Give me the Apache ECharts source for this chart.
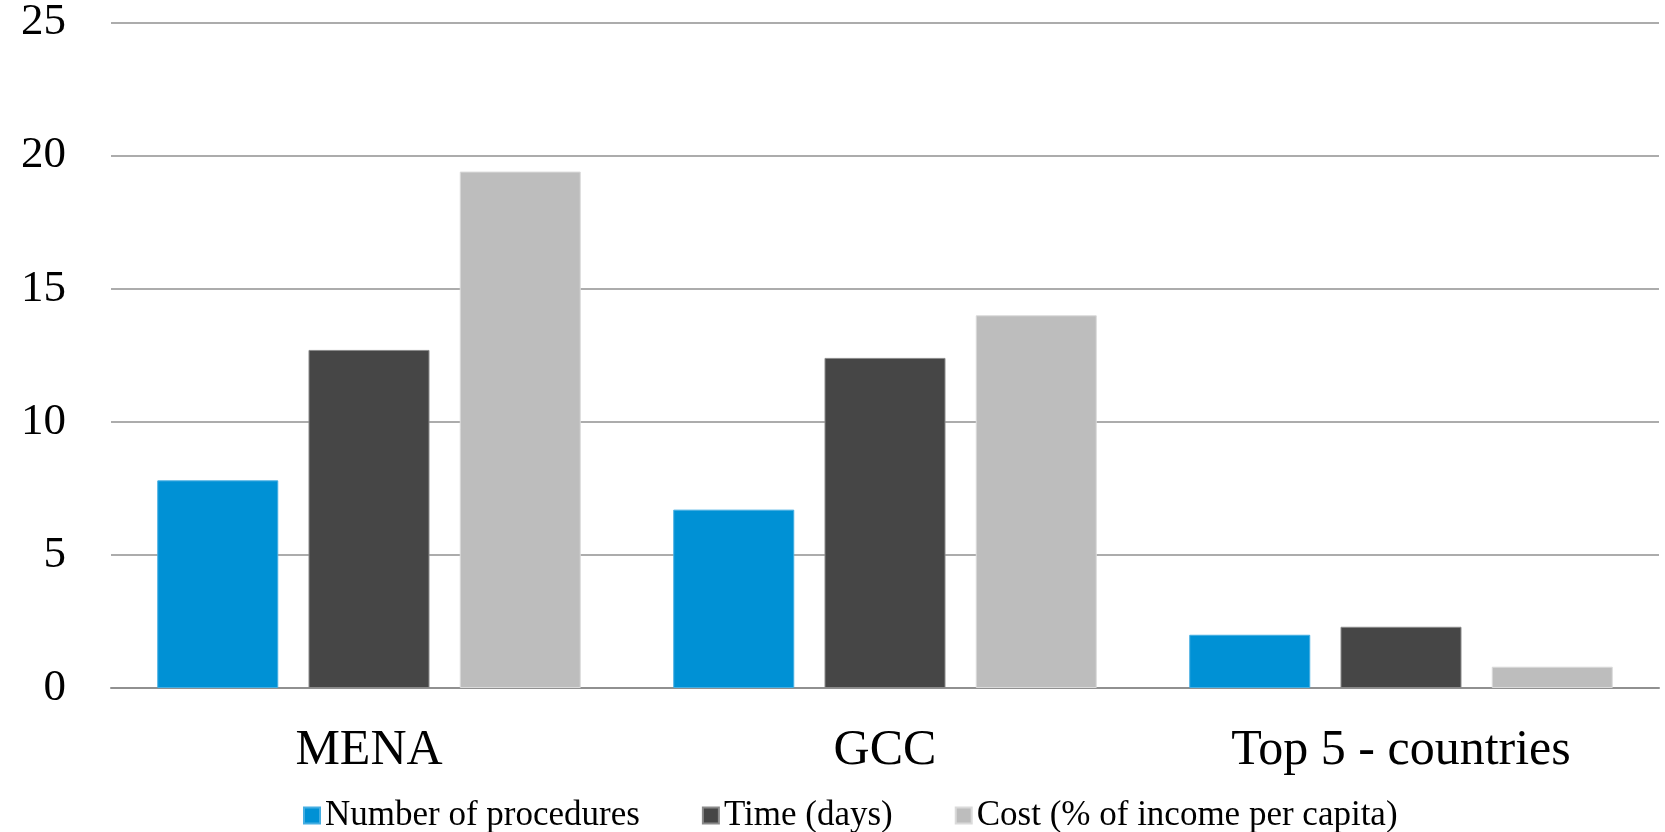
<!DOCTYPE html>
<html>
<head>
<meta charset="utf-8">
<style>
  html, body { margin: 0; padding: 0; background: #ffffff; }
  #chart { width: 1665px; height: 832px; }
</style>
<script src="https://cdn.jsdelivr.net/npm/echarts@6/dist/echarts.min.js"></script>
</head>
<body>
<div id="chart"></div>
<script>
// Regions compared
const categories = ['MENA', 'GCC', 'Top 5 - countries'];

// Series values per region
const procedures = [7.8, 6.7, 2.0];
const timeDays = [12.7, 12.4, 2.3];
const costPct = [19.4, 14.0, 0.8];

const seriesNames = ['Number of procedures', 'Time (days)', 'Cost (% of income per capita)'];

// Value axis ticks
const yTicks = [0, 5, 10, 15, 20, 25];

const serif = '"Liberation Serif", "DejaVu Serif", serif';

const chart = echarts.init(document.getElementById('chart'), null, { renderer: 'canvas' });

function bar(name, data, color, border) {
  return {
    name: name,
    type: 'bar',
    data: data,
    barWidth: 121,
    barGap: '25%',
    itemStyle: { color: color, borderColor: border, borderWidth: 1 },
    emphasis: { disabled: true }
  };
}

chart.setOption({
  animation: false,
  backgroundColor: '#ffffff',
  grid: { left: 111, right: 6, top: 19, bottom: 144, containLabel: false },
  xAxis: {
    type: 'category',
    data: categories,
    axisLine: { show: true, lineStyle: { color: '#909090', width: 2 } },
    axisTick: { show: false },
    axisLabel: { color: '#000000', fontFamily: serif, fontSize: 50, margin: 38 }
  },
  yAxis: {
    type: 'value',
    min: yTicks[0],
    max: yTicks[yTicks.length - 1],
    interval: yTicks[1] - yTicks[0],
    axisLine: { show: false },
    axisTick: { show: false },
    axisLabel: { color: '#000000', fontFamily: serif, fontSize: 45, margin: 45 },
    splitLine: { show: true, lineStyle: { color: '#909090', width: 1.5 } }
  },
  legend: {
    data: seriesNames,
    left: 298,
    top: 793,
    itemWidth: 16,
    itemHeight: 16,
    itemGap: 62,
    icon: 'rect',
    textStyle: { color: '#000000', fontFamily: serif, fontSize: 35 }
  },
  series: [
    bar(seriesNames[0], procedures, '#0091D5', '#45aee2'),
    bar(seriesNames[1], timeDays, '#464646', '#8a8a8a'),
    bar(seriesNames[2], costPct, '#BDBDBD', '#dadada')
  ]
});
</script>
</body>
</html>
